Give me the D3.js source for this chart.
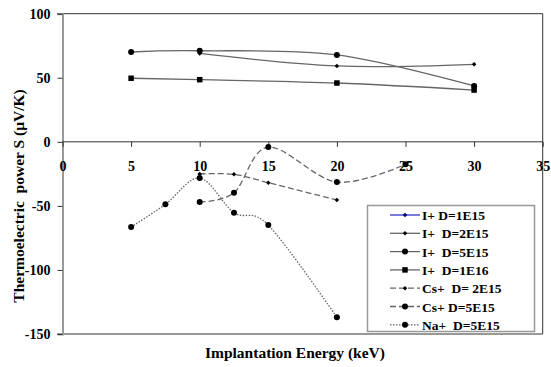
<!DOCTYPE html>
<html><head><meta charset="utf-8">
<script src="https://cdn.jsdelivr.net/npm/d3@7"></script>
<style>body{margin:0;background:#fff}svg{display:block}text{font-family:"Liberation Serif","Times New Roman",serif;font-weight:bold}</style>
</head><body>
<svg id="c" width="551" height="367"></svg>
<script>
const xTicks = [0, 5, 10, 15, 20, 25, 30, 35];
const yTicks = [100, 50, 0, -50, -100, -150];
const seriesNames = ["I+ D=1E15", "I+  D=2E15", "I+  D=5E15", "I+  D=1E16", "Cs+  D= 2E15", "Cs+ D=5E15", "Na+  D=5E15"];
const i1e15 = [];
const i2e15 = [[10, 69], [20, 59.2], [30, 60.5]];
const i5e15 = [[5, 70.1], [10, 71.1], [20, 67.8], [30, 43.6]];
const i1e16 = [[5, 49.6], [10, 48.5], [20, 45.9], [30, 40.4]];
const cs2e15 = [[10, -25.1], [12.5, -25.4], [15, -31.9], [20, -45.4]];
const cs5e15 = [[10, -47], [12.5, -39.7], [15, -4.1], [20, -31.4], [25, -17.6]];
const na5e15 = [[5, -66.5], [7.5, -48.8], [10, -28.3], [12.5, -55.3], [15, -65], [20, -137]];

const data = [i1e15, i2e15, i5e15, i1e16, cs2e15, cs5e15, na5e15];
const styles = [
  {stroke: "#3333cc", dash: null, marker: "diamond", mfill: "#000080", ms: 4.5},
  {stroke: "#666", dash: null, marker: "diamond", mfill: "#000", ms: 4.5},
  {stroke: "#666", dash: null, marker: "circle", mfill: "#000", ms: 3},
  {stroke: "#666", dash: null, marker: "square", mfill: "#000", ms: 5.5},
  {stroke: "#666", dash: "6,3", marker: "diamond", mfill: "#000", ms: 4.5},
  {stroke: "#666", dash: "6,3", marker: "circle", mfill: "#000", ms: 3},
  {stroke: "#666", dash: "1.5,1.5", marker: "circle", mfill: "#000", ms: 3}
];

const svg = d3.select("#c");
const x = d3.scaleLinear().domain([0, 35]).range([62.5, 542.7]);
const y = d3.scaleLinear().domain([-150, 100]).range([334, 13.7]);
const fmt = d => String(d);

// frame
svg.append("line").attr("x1", 57).attr("x2", 542.7).attr("y1", y(100)).attr("y2", y(100)).attr("stroke", "#333");
svg.append("line").attr("x1", 57).attr("x2", 542.7).attr("y1", y(-150)).attr("y2", y(-150)).attr("stroke", "#333");
svg.append("line").attr("x1", 542.7).attr("x2", 542.7).attr("y1", y(100)).attr("y2", y(-150)).attr("stroke", "#333");

// y axis
const ya = svg.append("g").attr("transform", `translate(${x(0)},0)`)
  .call(d3.axisLeft(y).tickValues(yTicks).tickSize(5).tickPadding(7).tickFormat(fmt));
ya.attr("font-family", null).attr("font-size", null);
ya.select(".domain").attr("stroke", "#999").attr("stroke-width", 2);
ya.selectAll(".tick line").attr("stroke", "#333");
ya.selectAll(".tick text").attr("font-size", 14).attr("fill", "#000");

// x axis at y=0
const xa = svg.append("g").attr("transform", `translate(0,${y(0)})`)
  .call(d3.axisBottom(x).tickValues(xTicks).tickSize(5).tickPadding(14).tickFormat(fmt));
xa.attr("font-family", null).attr("font-size", null);
xa.select(".domain").attr("stroke", "#333").attr("d", `M${x(0)},0H${x(35)}`);
xa.selectAll(".tick line").attr("stroke", "#333");
xa.selectAll(".tick text").attr("font-size", 14).attr("fill", "#000");

// series
const line = d3.line().x(d => x(d[0])).y(d => y(d[1])).curve(d3.curveCatmullRom.alpha(0));
function marker(g, type, cx, cy, s, fill) {
  if (type === "circle") g.append("circle").attr("cx", cx).attr("cy", cy).attr("r", s).attr("fill", fill);
  else if (type === "square") g.append("rect").attr("x", cx - s / 2).attr("y", cy - s / 2).attr("width", s).attr("height", s).attr("fill", fill);
  else g.append("path").attr("d", `M${cx},${cy - s / 2}L${cx + s / 2},${cy}L${cx},${cy + s / 2}L${cx - s / 2},${cy}Z`).attr("fill", fill);
}
data.forEach((ser, i) => {
  const st = styles[i];
  if (ser.length) {
    svg.append("path").datum(ser).attr("d", line).attr("fill", "none")
      .attr("stroke", st.stroke).attr("stroke-width", 1.3).attr("stroke-dasharray", st.dash);
  }
  const g = svg.append("g");
  ser.forEach(d => marker(g, st.marker, x(d[0]), y(d[1]), st.ms, st.mfill));
});

// legend
const lg = svg.append("g");
lg.append("rect").attr("x", 367.5).attr("y", 205.5).attr("width", 167).attr("height", 126).attr("fill", "#fff").attr("stroke", "#999").attr("stroke-width", 1.5);
seriesNames.forEach((n, i) => {
  const st = styles[i];
  const cy = 215 + i * 18.3;
  lg.append("line").attr("x1", 390).attr("x2", 420).attr("y1", cy).attr("y2", cy)
    .attr("stroke", st.stroke).attr("stroke-width", 1.3).attr("stroke-dasharray", st.dash);
  marker(lg, st.marker, 405, cy, st.ms, st.mfill);
  lg.append("text").attr("x", 422).attr("y", cy + 5).attr("font-size", 13.5).attr("fill", "#000").style("white-space", "pre").text(n);
});

// titles
svg.append("text").attr("transform", "translate(24,196) rotate(-90)").attr("text-anchor", "middle").attr("font-size", 15.5).style("white-space", "pre").text("Thermoelectric  power S (μV/K)");
svg.append("text").attr("x", 295).attr("y", 358).attr("text-anchor", "middle").attr("font-size", 15.5).text("Implantation Energy (keV)");
</script>
</body></html>
